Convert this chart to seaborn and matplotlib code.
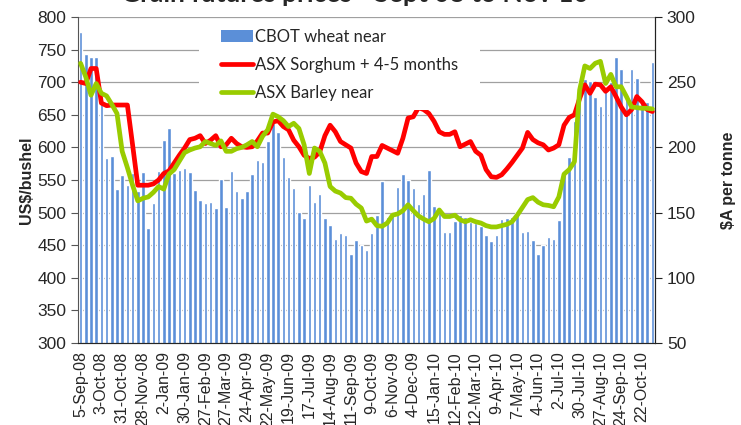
import numpy as np
import pandas as pd
import matplotlib
matplotlib.use("Agg")
import matplotlib.pyplot as plt
import seaborn as sns
from matplotlib.patches import Patch, Rectangle
from matplotlib.lines import Line2D

# weekly CBOT wheat near, US$/bushel
wheat = [777, 744, 739, 738, 675, 584, 587, 536, 558, 543, 560, 533, 562, 476, 515,
         564, 612, 629, 561, 566, 569, 562, 534, 520, 515, 517, 507, 551, 509, 564,
         533, 523, 533, 559, 581, 578, 610, 638, 623, 585, 555, 537, 501, 492, 542,
         516, 528, 492, 481, 459, 468, 466, 436, 458, 451, 443, 468, 496, 549, 493,
         500, 539, 559, 550, 537, 513, 528, 565, 510, 500, 471, 471, 487, 496, 494,
         486, 484, 480, 466, 457, 466, 490, 492, 494, 500, 470, 472, 458, 437, 451,
         462, 459, 488, 563, 586, 640, 700, 705, 702, 677, 664, 688, 700, 739, 721,
         680, 720, 707, 672, 670, 731]

# ASX sorghum + 4-5 months, $A/tonne
sorghum = [250, 249, 260.5, 260.5, 234, 232, 232.5, 232.5, 232.5, 232.5, 202, 171, 171,
           171, 172, 175, 180, 182, 188, 194, 199.5, 206, 207, 209, 203, 205.5, 209,
           200.5, 202, 207, 203, 200.5, 200, 200.5, 205, 211, 211, 219.5, 220.5, 216,
           213.5, 205.5, 200.5, 194, 191.5, 192.5, 196.5, 209, 217, 212, 204.5, 202,
           199.5, 188, 181.5, 180, 193, 193, 201.5, 199.5, 197.5, 195.5, 207, 222.5,
           223.5, 230.5, 229, 226, 220, 212, 210, 210, 212, 200.5, 202.5, 204.5, 197,
           194, 183, 177.5, 177, 179, 183.5, 188.5, 194, 199.5, 211.5, 206, 203.5, 202,
           198, 199.5, 202, 217, 223, 225, 237.5, 248, 241.5, 248.5, 248, 243, 246.5,
           239, 231, 225, 229, 239, 235, 229, 227.5]

# ASX barley near, $A/tonne
barley = [264.5, 254, 240, 249, 241.5, 239.5, 233, 226, 197, 184.5, 171, 159, 161, 162,
          165.5, 170, 168, 179.5, 183, 189.5, 196, 198, 199.5, 200.5, 204.5, 203, 201.5,
          205, 197, 197, 199, 200, 202, 204.5, 200.5, 208.5, 213.5, 225.5, 223.5, 220.5,
          216, 218.5, 214.5, 202, 180, 199.5, 197, 188, 170, 166.5, 165, 161.5, 161,
          156.5, 153.5, 143.5, 145, 140, 139.5, 142, 148, 149, 151.5, 156, 151.5, 147.5,
          145, 143, 145.5, 152, 147, 147, 148, 144.5, 143, 144.5, 143, 142, 140, 139,
          139, 140, 141, 143, 148, 154, 160, 161.5, 158, 156, 155.5, 154.5, 162, 179.5,
          183, 189, 244, 262.5, 260.5, 264.5, 266, 249, 256, 246.5, 246.5, 239, 231,
          230.5, 230, 230, 229.5]

tick_labels = ["5-Sep-08", "3-Oct-08", "31-Oct-08", "28-Nov-08", "2-Jan-09", "30-Jan-09",
               "27-Feb-09", "27-Mar-09", "24-Apr-09", "22-May-09", "19-Jun-09", "17-Jul-09",
               "14-Aug-09", "11-Sep-09", "9-Oct-09", "6-Nov-09", "4-Dec-09", "15-Jan-10",
               "12-Feb-10", "12-Mar-10", "9-Apr-10", "7-May-10", "4-Jun-10", "2-Jul-10",
               "30-Jul-10", "27-Aug-10", "24-Sep-10", "22-Oct-10"]

BLUE = "#5B8FD8"
RED = "#FF0000"
GREEN = "#99CC00"
GRID = "#A0A0A0"


def main():
    sns.set_style("white")
    plt.rcParams["font.family"] = ["Liberation Sans", "DejaVu Sans"]

    n = len(wheat)
    df = pd.DataFrame({"week": range(n), "wheat": wheat,
                       "sorghum": sorghum, "barley": barley})

    fig = plt.figure(figsize=(7.41, 4.25), dpi=100)
    ax = fig.add_axes([78 / 741, 1 - 343 / 425, 577 / 741, 326 / 425])

    sns.barplot(data=df, x="week", y="wheat", color=BLUE, saturation=1,
                width=0.68, ax=ax)
    ax.set_xlim(-0.5, n - 0.5)
    ax.set_ylim(300, 800)
    ax.set_yticks(range(300, 801, 50))
    ax.yaxis.grid(True, color=GRID, lw=0.9)
    ax.set_axisbelow(True)
    ax.set_xlabel("")
    ax.set_ylabel("US\\$/bushel", fontsize=11.5, fontweight="bold", labelpad=2)
    ax.set_xticks(range(0, n, 4))
    ax.set_xticklabels(tick_labels, rotation=90, fontsize=11.5,
                       family=["Liberation Sans Narrow", "Liberation Sans"])
    ax.set_xticks(np.arange(-0.5, n, 1), minor=True)
    ax.tick_params(axis="x", which="major", length=0, pad=6)
    ax.tick_params(axis="x", which="minor", length=4, direction="out", width=0.8, color="#555555")
    ax.tick_params(axis="y", length=5, direction="out", width=0.8, labelsize=12.5, color="#555555")
    ax.spines["top"].set_visible(False)
    for s in ["left", "bottom"]:
        ax.spines[s].set_color("#555555")

    ax2 = ax.twinx()
    sns.lineplot(data=df, x="week", y="sorghum", color=RED, lw=3.4, ax=ax2)
    sns.lineplot(data=df, x="week", y="barley", color=GREEN, lw=3.4, ax=ax2)
    ax2.set_ylim(50, 300)
    ax2.set_yticks(range(50, 301, 50))
    ax2.set_xlim(-0.5, n - 0.5)
    ax2.set_xlabel("")
    ax2.set_ylabel("\\$A per tonne", fontsize=11.5, fontweight="bold", labelpad=18)
    ax2.tick_params(axis="y", length=5, direction="out", width=0.8, labelsize=12.5, color="#222222")
    ax2.spines["top"].set_visible(False)
    ax2.spines["right"].set_color("#222222")
    ax2.spines["left"].set_visible(False)

    # white block behind the legend hides the grid
    ax2.add_patch(Rectangle((0.21, 0.715), 0.487, 0.275, transform=ax2.transAxes,
                            facecolor="white", edgecolor="none", zorder=3))

    handles = [Patch(facecolor=BLUE, edgecolor="none"),
               Line2D([], [], color=RED, lw=3.4),
               Line2D([], [], color=GREEN, lw=3.4)]
    names = ["CBOT wheat near", "ASX Sorghum + 4-5 months", "ASX Barley near"]
    leg = ax2.legend(handles, names, loc="upper left", bbox_to_anchor=(0.237, 0.985),
                     frameon=False, handlelength=1.9, handletextpad=0.1,
                     labelspacing=0.72, borderaxespad=0,
                     prop={"family": ["Lato", "DejaVu Sans"], "size": 12})
    leg.set_zorder(4)

    # title is partly cut off at the top edge, as in the source chart
    fig.text(355 / 741, 1 - 2 / 425, "Grain futures prices - Sept 08 to Nov 10",
             ha="center", va="baseline", fontsize=19, fontweight="bold",
             family=["Lato", "DejaVu Sans"])

    fig.savefig("out.png", dpi=100)


if __name__ == "__main__":
    main()
